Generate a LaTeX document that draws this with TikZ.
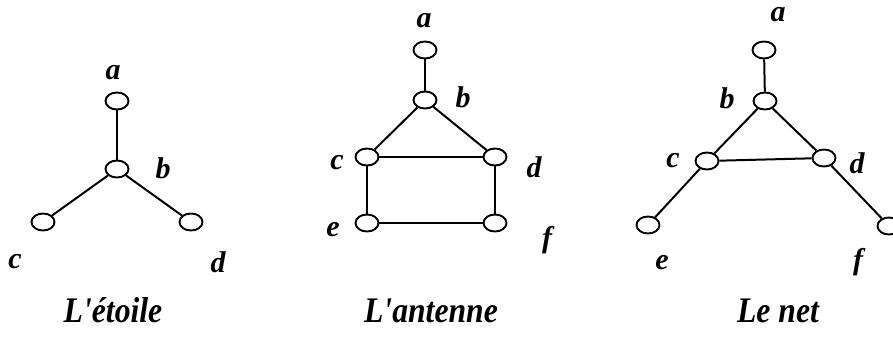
\documentclass[tikz,border=0pt]{standalone}
\usepackage{fontspec}
\setmainfont{Liberation Serif}
\newfontfamily\ttlfont[FakeStretch=0.88]{Liberation Serif}
\usetikzlibrary{shapes.geometric}
\tikzset{
  vtx/.style={draw, ellipse, line width=1.9pt, minimum width=23pt, minimum height=17pt, inner sep=0pt},
  lbl/.style={font=\fontsize{30}{34}\selectfont\bfseries\itshape},
  ttl/.style={font=\ttlfont\fontsize{36}{40}\selectfont\bfseries\itshape, anchor=base},
  edge/.style={line width=2pt}
}
\begin{document}
\begin{tikzpicture}[x=1pt, y=-1pt]
\useasboundingbox (0,0) rectangle (893,340);
% L'etoile
\node[vtx] (sa) at (117,101) {};
\node[vtx] (sb) at (117,169) {};
\node[vtx] (sc) at (43,222) {};
\node[vtx] (sd) at (191,222) {};
\draw[edge] (sa) -- (sb);
\draw[edge] (sb) -- (sc);
\draw[edge] (sb) -- (sd);
\node[lbl] (lsa) at (113,73) {a};
\node[lbl] (lsb) at (163,168) {b};
\node[lbl] (lsc) at (15,262) {c};
\node[lbl] (lsd) at (218,262) {d};
\node[ttl] (tsa) at (113,322) {L\char"27 étoile};

% L'antenne
\node[vtx] (aa) at (425,50) {};
\node[vtx] (ab) at (425,100) {};
\node[vtx] (ac) at (367,157) {};
\node[vtx] (ad) at (495,157) {};
\node[vtx] (ae) at (367,223) {};
\node[vtx] (af) at (495,223) {};
\draw[edge] (aa) -- (ab);
\draw[edge] (ab) -- (ac);
\draw[edge] (ab) -- (ad);
\draw[edge] (ac) -- (ad);
\draw[edge] (ac) -- (ae);
\draw[edge] (ad) -- (af);
\draw[edge] (ae) -- (af);
\node[lbl] (laa) at (424,21) {a};
\node[lbl] (lab) at (463,97) {b};
\node[lbl] (lac) at (337,163) {c};
\node[lbl] (lad) at (534,167) {d};
\node[lbl] (lae) at (333,230) {e};
\node[lbl] (laf) at (547,240) {f};
\node[ttl] (taa) at (431,322) {L\char"27 antenne};

% Le net
\node[vtx] (na) at (764,50) {};
\node[vtx] (nb) at (765,101) {};
\node[vtx] (nc) at (707,161) {};
\node[vtx] (nd) at (824,158) {};
\node[vtx] (ne) at (648,225) {};
\node[vtx] (nf) at (889,226) {};
\draw[edge] (na) -- (nb);
\draw[edge] (nb) -- (nc);
\draw[edge] (nb) -- (nd);
\draw[edge] (nc) -- (nd);
\draw[edge] (nc) -- (ne);
\draw[edge] (nd) -- (nf);
\node[lbl] (lna) at (778,15) {a};
\node[lbl] (lnb) at (727,98) {b};
\node[lbl] (lnc) at (673,161) {c};
\node[lbl] (lnd) at (857,163) {d};
\node[lbl] (lne) at (662,263) {e};
\node[lbl] (lnf) at (858,262) {f};
\node[ttl] (tna) at (778,322) {Le net};
\end{tikzpicture}
\end{document}
